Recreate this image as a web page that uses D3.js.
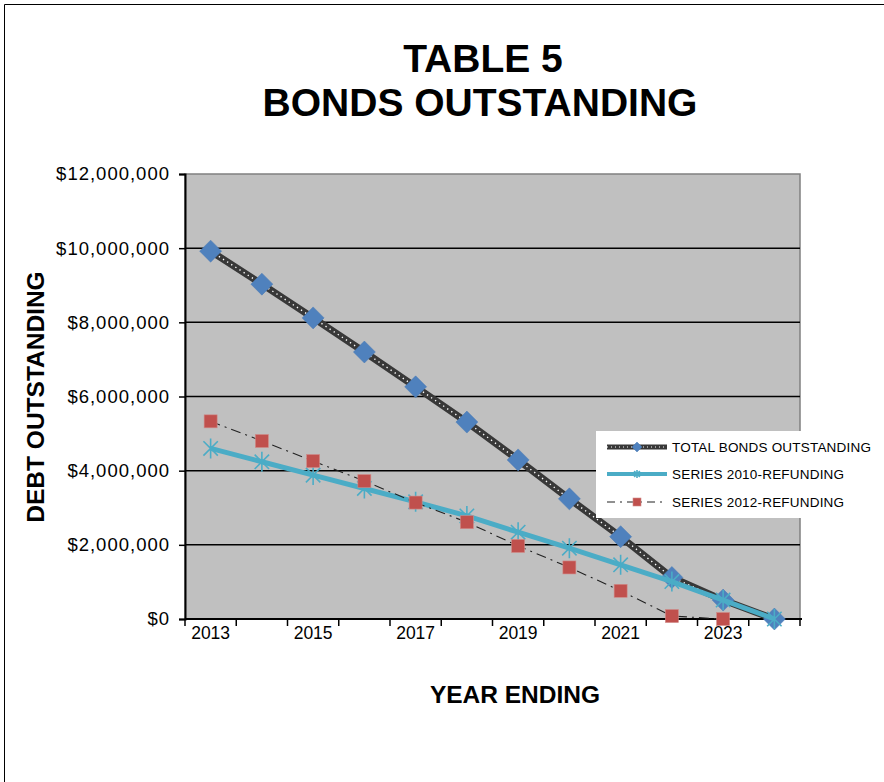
<!DOCTYPE html>
<html>
<head>
<meta charset="utf-8">
<script src="https://cdn.jsdelivr.net/npm/d3@7"></script>
<style>
  body { margin: 0; background: #fff; }
  svg { display: block; font-family: Arial, "Liberation Sans", sans-serif; }
</style>
</head>
<body>
<svg id="chart" width="884" height="782"></svg>
<script>
// data (dollars)
var years = [2013, 2014, 2015, 2016, 2017, 2018, 2019, 2020, 2021, 2022, 2023, 2024];
var totalBonds = [9920000, 9030000, 8120000, 7200000, 6260000, 5310000, 4290000, 3240000, 2220000, 1120000, 510000, 0];
var series2010 = [4600000, 4240000, 3880000, 3520000, 3160000, 2780000, 2340000, 1910000, 1460000, 1010000, 510000, 0];
var series2012 = [5330000, 4800000, 4260000, 3720000, 3140000, 2610000, 1970000, 1390000, 760000, 80000, 0];
var yTicks = [0, 2000000, 4000000, 6000000, 8000000, 10000000, 12000000];
var yearLabels = [2013, 2015, 2017, 2019, 2021, 2023];
var legendNames = ['TOTAL BONDS OUTSTANDING', 'SERIES 2010-REFUNDING', 'SERIES 2012-REFUNDING'];

var svg = d3.select('#chart');
// (window.top is read-only, so plot edges get their own names)
var plotL = 185, plotR = 800, plotT = 174, plotB = 619;

// page frame (left + top edges only)
svg.append('path').attr('d', 'M4.5,782 V4.5 H884').attr('fill', 'none').attr('stroke', '#000').attr('stroke-width', 1);

var x = d3.scaleBand().domain(years).range([plotL, plotR]).padding(0);
var y = d3.scaleLinear().domain([0, 12000000]).range([plotB, plotT]);
var cx = function(d, i) { return x(years[i]) + x.bandwidth() / 2; };

// titles
svg.append('text').attr('x', 483).attr('y', 72).attr('text-anchor', 'middle')
  .attr('font-size', 39).attr('font-weight', 'bold').text('TABLE 5');
svg.append('text').attr('x', 480).attr('y', 116).attr('text-anchor', 'middle')
  .attr('font-size', 39).attr('font-weight', 'bold').text('BONDS OUTSTANDING');

// plot area
svg.append('rect').attr('x', plotL).attr('y', plotT).attr('width', plotR - plotL).attr('height', plotB - plotT)
  .attr('fill', '#c0c0c0').attr('stroke', '#808080').attr('stroke-width', 1.5);

// gridlines
svg.append('g').selectAll('line').data(yTicks.filter(function(t){ return t > 0 && t < 12000000; }))
  .enter().append('line')
  .attr('x1', plotL).attr('x2', plotR)
  .attr('y1', function(d){ return y(d); }).attr('y2', function(d){ return y(d); })
  .attr('stroke', '#000').attr('stroke-width', 1.5);

// y axis
var yAxis = svg.append('g').attr('transform', 'translate(' + plotL + ',0)')
  .call(d3.axisLeft(y).tickValues(yTicks).tickFormat(d3.format('$,')).tickSize(6).tickPadding(9));
yAxis.select('.domain').attr('stroke', '#000').attr('stroke-width', 2);
yAxis.selectAll('.tick line').attr('stroke', '#000').attr('stroke-width', 1.5);
yAxis.selectAll('text').attr('font-size', 18.5).attr('letter-spacing', 1).attr('fill', '#000')
  .attr('font-family', 'Arial, "Liberation Sans", sans-serif');

// x axis: line, ticks at category boundaries, labels every other year
svg.append('line').attr('x1', plotL).attr('x2', plotR + 2).attr('y1', plotB).attr('y2', plotB)
  .attr('stroke', '#000').attr('stroke-width', 2);
var bounds = years.map(function(d){ return x(d); }).concat([plotR]);
svg.append('g').selectAll('line').data(bounds).enter().append('line')
  .attr('x1', function(d){ return d; }).attr('x2', function(d){ return d; })
  .attr('y1', plotB).attr('y2', plotB + 7)
  .attr('stroke', '#000').attr('stroke-width', 1.5);
var xAxis = svg.append('g').attr('transform', 'translate(0,' + plotB + ')')
  .call(d3.axisBottom(x).tickValues(yearLabels).tickSize(0).tickPadding(8));
xAxis.select('.domain').remove();
xAxis.selectAll('text').attr('font-size', 17.5).attr('fill', '#000')
  .attr('font-family', 'Arial, "Liberation Sans", sans-serif');

// axis titles
svg.append('text').attr('transform', 'translate(44,397) rotate(-90)').attr('text-anchor', 'middle')
  .attr('font-size', 24.5).attr('font-weight', 'bold').text('DEBT OUTSTANDING');
svg.append('text').attr('x', 515).attr('y', 703).attr('text-anchor', 'middle')
  .attr('font-size', 24.5).attr('font-weight', 'bold').text('YEAR ENDING');

var line = d3.line().x(cx).y(function(d){ return y(d); });

function diamond(g, px, py, r) {
  g.append('path').attr('d', 'M' + px + ',' + (py - r) + 'L' + (px + r) + ',' + py + 'L' + px + ',' + (py + r) + 'L' + (px - r) + ',' + py + 'Z')
    .attr('fill', '#4f81bd').attr('stroke', '#4a7ab5').attr('stroke-width', 0.5);
}
function star(g, px, py, r) {
  var a = r * 0.72;
  g.append('path').attr('d', 'M' + px + ',' + (py - r) + 'V' + (py + r) +
      'M' + (px - a) + ',' + (py - a) + 'L' + (px + a) + ',' + (py + a) +
      'M' + (px - a) + ',' + (py + a) + 'L' + (px + a) + ',' + (py - a))
    .attr('fill', 'none').attr('stroke', '#4bacc6').attr('stroke-width', 1.6);
}
function square(g, px, py, s) {
  g.append('rect').attr('x', px - s / 2).attr('y', py - s / 2).attr('width', s).attr('height', s)
    .attr('fill', '#c0504d').attr('stroke', '#d08a88').attr('stroke-width', 0.6);
}

// total bonds
var gT = svg.append('g');
gT.append('path').datum(totalBonds).attr('d', line).attr('fill', 'none')
  .attr('stroke', '#383838').attr('stroke-width', 7);
gT.append('path').datum(totalBonds).attr('d', line).attr('fill', 'none')
  .attr('stroke', '#fff').attr('stroke-width', 1.4).attr('stroke-dasharray', '1.3,3.6');
totalBonds.forEach(function(d, i){ diamond(gT, cx(d, i), y(d), 11); });

// series 2010
var gA = svg.append('g');
gA.append('path').datum(series2010).attr('d', line).attr('fill', 'none')
  .attr('stroke', '#4bacc6').attr('stroke-width', 5);
series2010.forEach(function(d, i){ star(gA, cx(d, i), y(d), 10); });

// series 2012
var gB = svg.append('g');
gB.append('path').datum(series2012).attr('d', line).attr('fill', 'none')
  .attr('stroke', '#222').attr('stroke-width', 1.1).attr('stroke-dasharray', '10,5,2,5');
series2012.forEach(function(d, i){ square(gB, cx(d, i), y(d), 13); });

// legend
var lg = svg.append('g');
lg.append('rect').attr('x', 596).attr('y', 431).attr('width', 288).attr('height', 87).attr('fill', '#fff');
var rowY = [447, 474, 502];
legendNames.forEach(function(name, i){
  var yy = rowY[i];
  if (i === 0) {
    lg.append('line').attr('x1', 607).attr('x2', 667).attr('y1', yy).attr('y2', yy)
      .attr('stroke', '#383838').attr('stroke-width', 5);
    lg.append('line').attr('x1', 607).attr('x2', 667).attr('y1', yy).attr('y2', yy)
      .attr('stroke', '#fff').attr('stroke-width', 1).attr('stroke-dasharray', '1,3');
    diamond(lg, 637, yy, 5);
  } else if (i === 1) {
    lg.append('line').attr('x1', 607).attr('x2', 667).attr('y1', yy).attr('y2', yy)
      .attr('stroke', '#4bacc6').attr('stroke-width', 4);
    star(lg, 637, yy, 4);
  } else {
    lg.append('line').attr('x1', 607).attr('x2', 667).attr('y1', yy).attr('y2', yy)
      .attr('stroke', '#222').attr('stroke-width', 1.1).attr('stroke-dasharray', '8,5,2,5');
    square(lg, 637, yy, 8);
  }
  lg.append('text').attr('x', 672).attr('y', yy + 5).attr('font-size', 13.5)
    .attr('letter-spacing', 0.2).attr('fill', '#000').text(name);
});
</script>
</body>
</html>
